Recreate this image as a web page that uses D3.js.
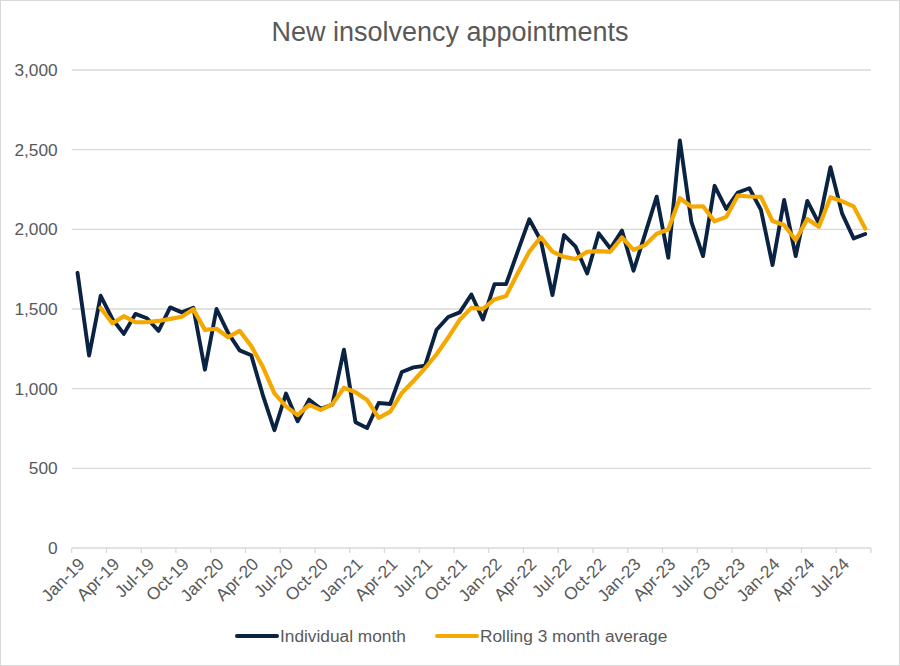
<!DOCTYPE html>
<html>
<head>
<meta charset="utf-8">
<script src="https://cdn.jsdelivr.net/npm/d3@7"></script>
<style>
  html, body { margin: 0; padding: 0; background: #fff; }
  svg { display: block; font-family: "Liberation Sans", Arial, sans-serif; }
</style>
</head>
<body>
<svg id="chart" width="900" height="666"></svg>
<script>
const title = "New insolvency appointments";
const months = ["Jan","Feb","Mar","Apr","May","Jun","Jul","Aug","Sep","Oct","Nov","Dec"];
const years = ["19","20","21","22","23","24"];
const categories = [];
years.forEach(y => months.forEach(m => categories.push(m + "-" + y)));
categories.splice(69); // Jan-19 .. Sep-24

const individualMonth = [
  1727, 1208, 1583, 1439, 1344, 1469, 1442, 1363, 1510, 1479, 1508, 1119,
  1500, 1350, 1240, 1210, 960, 739, 969, 795, 931, 874, 900, 1245,
  789, 753, 910, 904, 1105, 1134, 1144, 1370, 1450, 1479, 1591, 1434,
  1656, 1656, 1860, 2063, 1930, 1587, 1964, 1891, 1723, 1975, 1880, 1992,
  1740, 1971, 2205, 1822, 2558, 2045, 1832, 2273, 2128, 2231, 2258, 2122,
  1776, 2184, 1832, 2178, 2038, 2390, 2100, 1943, 1971
];
const rolling3Month = [
  null, null, 1506, 1410, 1455, 1417, 1418, 1425, 1438, 1451, 1499, 1369,
  1376, 1323, 1363, 1267, 1137, 970, 889, 834, 898, 867, 902, 1006,
  978, 929, 817, 856, 973, 1048, 1128, 1216, 1321, 1433, 1507, 1501,
  1560, 1582, 1724, 1860, 1951, 1860, 1827, 1814, 1859, 1863, 1859, 1949,
  1871, 1901, 1972, 1999, 2195, 2142, 2145, 2050, 2078, 2211, 2206, 2204,
  2052, 2027, 1931, 2065, 2016, 2202, 2176, 2144, 2005
];
const yTicks = [0, 500, 1000, 1500, 2000, 2500, 3000];
const seriesNames = ["Individual month", "Rolling 3 month average"];
const seriesColors = ["#0b2343", "#f5a800"];

const svg = d3.select("#chart");
const W = 900, H = 666;
const plot = { left: 71.7, right: 871, top: 70, bottom: 548 };
const textColor = "#595959";
const gridColor = "#d9d9d9";

// outer border
svg.append("rect").attr("x", 0.5).attr("y", 0.5).attr("width", W - 1).attr("height", H - 1)
  .attr("fill", "#fff").attr("stroke", gridColor);

const x = d3.scaleBand().domain(categories).range([plot.left, plot.right]).paddingInner(0).paddingOuter(0);
const xc = d => x(d) + x.bandwidth() / 2;
const y = d3.scaleLinear().domain([0, 3000]).range([plot.bottom, plot.top]);

// title
svg.append("text").attr("x", 450).attr("y", 41).attr("text-anchor", "middle")
  .attr("font-size", 27).attr("fill", textColor).text(title);

// gridlines
svg.append("g").selectAll("line").data(yTicks.filter(t => t > 0)).join("line")
  .attr("x1", plot.left).attr("x2", plot.right)
  .attr("y1", d => y(d)).attr("y2", d => y(d))
  .attr("stroke", gridColor).attr("stroke-width", 1.3);

// y axis labels
const yAxis = d3.axisLeft(y).tickValues(yTicks).tickSize(0).tickPadding(14)
  .tickFormat(d3.format(","));
const gy = svg.append("g").attr("transform", `translate(${plot.left},0)`).call(yAxis);
gy.select(".domain").remove();
gy.selectAll("text").attr("font-size", 17.3).attr("fill", textColor)
  .attr("font-family", "'Liberation Sans', Arial, sans-serif");

// x axis
const tickCats = categories.filter((d, i) => i % 3 === 0);
const gx = svg.append("g").attr("transform", `translate(0,${plot.bottom})`);
gx.append("line").attr("x1", plot.left).attr("x2", plot.right).attr("y1", 0).attr("y2", 0)
  .attr("stroke", gridColor).attr("stroke-width", 1.3);
const boundaries = categories.map(d => x(d)).filter((d, i) => i % 3 === 0).concat([plot.right]);
gx.selectAll("line.tick").data(boundaries).join("line").attr("class", "tick")
  .attr("x1", d => d).attr("x2", d => d).attr("y1", 0).attr("y2", 5)
  .attr("stroke", gridColor).attr("stroke-width", 1.3);
gx.selectAll("text").data(tickCats).join("text")
  .attr("transform", d => `translate(${xc(d) + 4},${13}) rotate(-45)`)
  .attr("text-anchor", "end").attr("dy", "0.35em")
  .attr("font-size", 17.3).attr("fill", textColor).text(d => d);

// lines
const line = d3.line()
  .defined(d => d.v !== null)
  .x(d => xc(d.c)).y(d => y(d.v));
const s1 = categories.map((c, i) => ({ c, v: individualMonth[i] }));
const s2 = categories.map((c, i) => ({ c, v: rolling3Month[i] }));
svg.append("path").datum(s1).attr("d", line).attr("fill", "none")
  .attr("stroke", seriesColors[0]).attr("stroke-width", 3.9)
  .attr("stroke-linejoin", "round").attr("stroke-linecap", "round");
svg.append("path").datum(s2).attr("d", line).attr("fill", "none")
  .attr("stroke", seriesColors[1]).attr("stroke-width", 4.2)
  .attr("stroke-linejoin", "round").attr("stroke-linecap", "round");

// legend
const legendItems = [{ x: 237, i: 0 }, { x: 437, i: 1 }];
const lg = svg.append("g");
legendItems.forEach(it => {
  lg.append("line").attr("x1", it.x).attr("x2", it.x + 40).attr("y1", 636).attr("y2", 636)
    .attr("stroke", seriesColors[it.i]).attr("stroke-width", 4).attr("stroke-linecap", "round");
  lg.append("text").attr("x", it.x + 43).attr("y", 642).attr("font-size", 17.3)
    .attr("fill", textColor).text(seriesNames[it.i]);
});
</script>
</body>
</html>
